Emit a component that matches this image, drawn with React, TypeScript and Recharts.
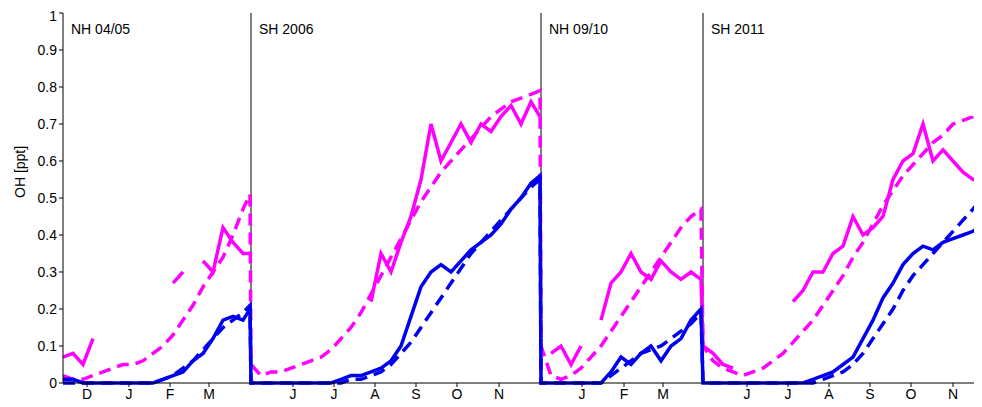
import React from "react";
import {
  LineChart,
  Line,
  XAxis,
  YAxis,
  ReferenceLine,
} from "recharts";

// x is a day-like position along the four campaigns (10 units per sample)
const segStarts = [63, 251, 541, 703];
const segLabels = ["NH 04/05", "SH 2006", "NH 09/10", "SH 2011"];

const monthTicks = [87, 129, 170, 209, 293, 334, 375, 416, 457, 499, 582, 624, 663, 747, 788, 829, 870, 911, 953];
const monthLabels = ["D", "J", "F", "M", "J", "J", "A", "S", "O", "N", "J", "F", "M", "J", "J", "A", "S", "O", "N"];

const _ = null;

// NH 04/05
const obsPink1 = [0.07, 0.08, 0.05, 0.12, _, _, _, _, _, _, _, 0.27, 0.3, _, 0.33, 0.3, 0.42, 0.38, 0.35, 0.35];
const modPink1 = [0.02, 0.01, 0.01, 0.02, 0.03, 0.04, 0.05, 0.05, 0.06, 0.08, 0.1, 0.13, 0.17, 0.21, 0.26, 0.3, 0.34, 0.4, 0.47, 0.51];
const obsBlue1 = [0.01, 0.01, 0, 0, 0, 0, 0, 0, 0, 0, 0.01, 0.02, 0.03, 0.06, 0.08, 0.12, 0.17, 0.18, 0.17, 0.2];
const modBlue1 = [0, 0, 0, 0, 0, 0, 0, 0, 0, 0, 0.01, 0.02, 0.04, 0.06, 0.09, 0.12, 0.15, 0.17, 0.19, 0.21];

// SH 2006
const obsPink2 = [_, _, _, _, _, _, _, _, _, _, _, _, 0.22, 0.35, 0.3, 0.38, 0.45, 0.55, 0.7, 0.6, 0.65, 0.7, 0.65, 0.7, 0.68, 0.72, 0.75, 0.7, 0.76, 0.72];
const modPink2 = [0.05, 0.02, 0.03, 0.03, 0.04, 0.05, 0.06, 0.07, 0.09, 0.12, 0.15, 0.19, 0.24, 0.29, 0.34, 0.39, 0.44, 0.49, 0.53, 0.57, 0.6, 0.63, 0.66, 0.69, 0.72, 0.74, 0.76, 0.77, 0.78, 0.79];
const obsBlue2 = [0, 0, 0, 0, 0, 0, 0, 0, 0, 0.01, 0.02, 0.02, 0.03, 0.04, 0.06, 0.1, 0.18, 0.26, 0.3, 0.32, 0.3, 0.33, 0.36, 0.38, 0.4, 0.43, 0.47, 0.5, 0.54, 0.56];
const modBlue2 = [0, 0, 0, 0, 0, 0, 0, 0, 0, 0, 0.01, 0.01, 0.02, 0.03, 0.05, 0.08, 0.11, 0.15, 0.19, 0.23, 0.27, 0.31, 0.35, 0.38, 0.41, 0.44, 0.47, 0.5, 0.53, 0.55];

// NH 09/10
const obsPink3 = [_, 0.08, 0.1, 0.05, 0.1, _, 0.17, 0.27, 0.3, 0.35, 0.3, 0.28, 0.33, 0.3, 0.28, 0.3, 0.28];
const modPink3 = [0.1, 0.02, 0.01, 0.02, 0.04, 0.07, 0.1, 0.14, 0.18, 0.22, 0.26, 0.3, 0.34, 0.38, 0.42, 0.45, 0.47];
const obsBlue3 = [0, 0, 0, 0, 0, 0, 0, 0.03, 0.07, 0.05, 0.08, 0.1, 0.06, 0.1, 0.12, 0.17, 0.2];
const modBlue3 = [0, 0, 0, 0, 0, 0, 0, 0.02, 0.04, 0.06, 0.08, 0.09, 0.1, 0.12, 0.14, 0.16, 0.19];

// SH 2011
const obsPink4 = [0.1, 0.08, 0.05, 0.04, _, _, _, _, _, 0.22, 0.25, 0.3, 0.3, 0.35, 0.37, 0.45, 0.4, 0.42, 0.45, 0.55, 0.6, 0.62, 0.7, 0.6, 0.63, 0.6, 0.57, 0.55, 0.55];
const modPink4 = [0.1, 0.06, 0.04, 0.03, 0.02, 0.03, 0.04, 0.06, 0.08, 0.11, 0.14, 0.17, 0.21, 0.25, 0.29, 0.34, 0.38, 0.43, 0.48, 0.52, 0.56, 0.59, 0.62, 0.65, 0.67, 0.7, 0.71, 0.72, 0.73];
const obsBlue4 = [0, 0, 0, 0, 0, 0, 0, 0, 0, 0, 0, 0.01, 0.02, 0.03, 0.05, 0.07, 0.12, 0.17, 0.23, 0.27, 0.32, 0.35, 0.37, 0.36, 0.38, 0.39, 0.4, 0.41, 0.43];
const modBlue4 = [0, 0, 0, 0, 0, 0, 0, 0, 0, 0, 0, 0, 0.01, 0.02, 0.03, 0.05, 0.08, 0.12, 0.16, 0.2, 0.25, 0.29, 0.32, 0.35, 0.38, 0.41, 0.44, 0.47, 0.5];

const segments = [
  [obsPink1, modPink1, obsBlue1, modBlue1],
  [obsPink2, modPink2, obsBlue2, modBlue2],
  [obsPink3, modPink3, obsBlue3, modBlue3],
  [obsPink4, modPink4, obsBlue4, modBlue4],
];

const data: any[] = [];
segments.forEach((seg, s) => {
  seg[1].forEach((_v, i) => {
    data.push({
      x: Math.min(segStarts[s] + i * 10, s < 3 ? segStarts[s + 1] - 1 : 982),
      op: seg[0][i],
      mp: seg[1][i],
      ob: seg[2][i],
      mb: seg[3][i],
    });
  });
});

const font = "'Liberation Sans', Arial, sans-serif";

const SegLabel = (text: string) => (props: any) => {
  const { viewBox } = props;
  return (
    <text x={viewBox.x + 8} y={viewBox.y + 21} fontSize={14} fill="#000" fontFamily={font}>
      {text}
    </text>
  );
};

export default function App() {
  return (
    <LineChart
      width={974}
      height={399}
      data={data}
      margin={{ top: 5, right: 0, left: 0, bottom: 0 }}
      style={{ fontFamily: font }}
    >
      <XAxis
        type="number"
        dataKey="x"
        domain={[63, 982]}
        ticks={monthTicks}
        tickFormatter={(v: number) => monthLabels[monthTicks.indexOf(v)]}
        stroke="#000"
        tick={{ fill: "#000", fontSize: 14 }}
        tickSize={4}
        height={24}
        allowDataOverflow
      />
      <YAxis
        domain={[0, 1]}
        ticks={[0, 0.1, 0.2, 0.3, 0.4, 0.5, 0.6, 0.7, 0.8, 0.9, 1]}
        tickFormatter={(v: number) => (v === 0 || v === 1 ? String(v) : v.toFixed(1))}
        stroke="#000"
        tick={{ fill: "#000", fontSize: 14 }}
        tickSize={4}
        width={55}
        label={{ value: "OH [ppt]", angle: -90, position: "insideLeft", offset: 12, fill: "#000", fontSize: 14 }}
      />
      {segStarts.map((sx, i) => (
        <ReferenceLine key={sx} x={sx} stroke="#000" strokeWidth={i === 0 ? 0 : 1} label={SegLabel(segLabels[i])} />
      ))}
      <Line dataKey="mp" stroke="#ff00ff" strokeWidth={3.5} strokeDasharray="12 7" dot={false} isAnimationActive={false} connectNulls={false} />
      <Line dataKey="op" stroke="#ff00ff" strokeWidth={3.5} dot={false} isAnimationActive={false} connectNulls={false} />
      <Line dataKey="mb" stroke="#0000ee" strokeWidth={3.5} strokeDasharray="12 7" dot={false} isAnimationActive={false} connectNulls={false} />
      <Line dataKey="ob" stroke="#0000ee" strokeWidth={3.5} dot={false} isAnimationActive={false} connectNulls={false} />
    </LineChart>
  );
}
